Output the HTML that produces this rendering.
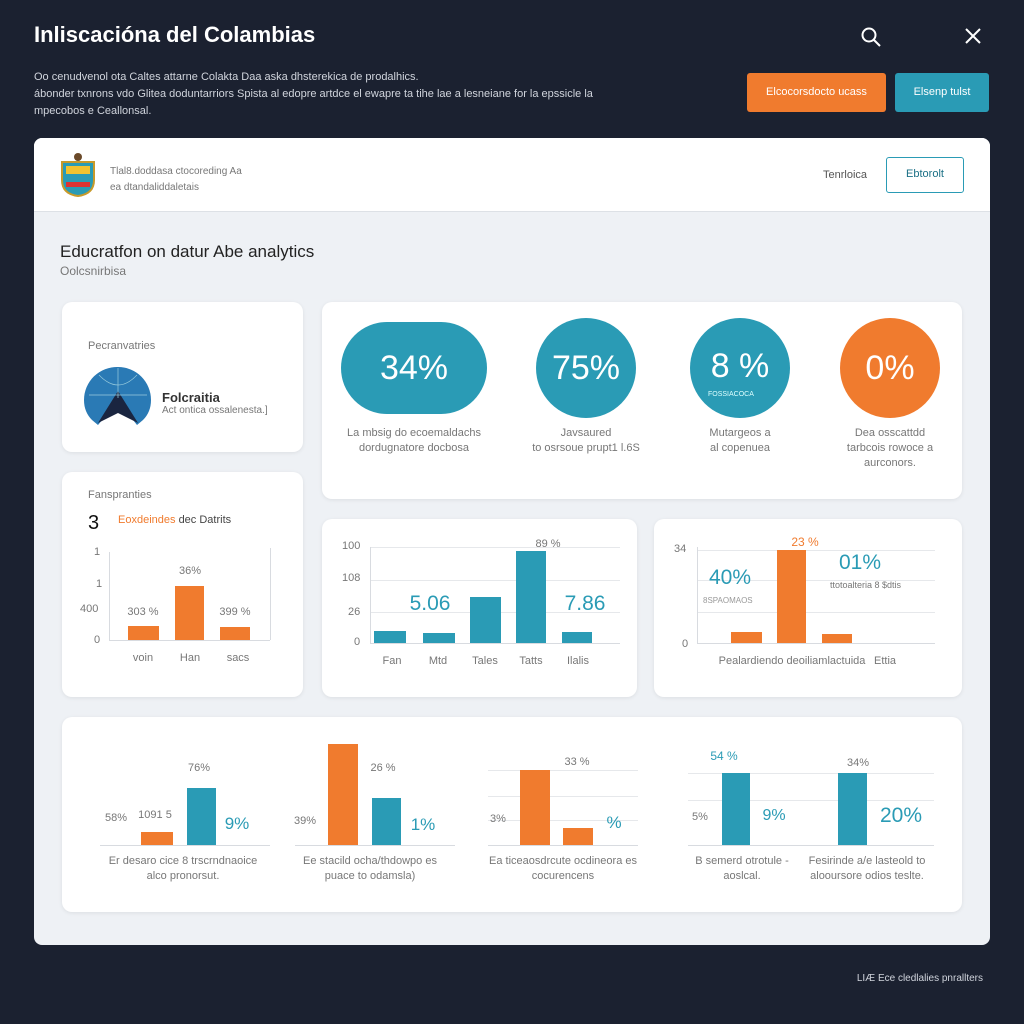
<!DOCTYPE html>
<html><head><meta charset="utf-8"><style>
*{margin:0;padding:0;box-sizing:border-box}
body{width:1024px;height:1024px;background:#1b2130;position:relative;overflow:hidden;font-family:"Liberation Sans",sans-serif}
.a{position:absolute;white-space:nowrap}
.c{position:absolute;background:#fff;border-radius:10px;box-shadow:0 1px 4px rgba(0,0,0,.08)}
.t{color:#2a9bb5}.o{color:#f07b2e}
.bt{position:absolute;background:#2a9bb5}.bo{position:absolute;background:#f07b2e}
.g{color:#777;font-size:11px}
.ctr{transform:translateX(-50%);text-align:center}
.ln{position:absolute;background:#d8dbe0}
</style></head><body>
<div class="a" style="left:34px;top:22px;font-size:22px;font-weight:bold;color:#fff">Inliscacióna del Colambias</div>
<svg class="a" style="left:860px;top:26px" width="22" height="22"><circle cx="9" cy="9" r="6.5" stroke="#fff" stroke-width="2" fill="none"/><line x1="14" y1="14" x2="20" y2="20" stroke="#fff" stroke-width="2"/></svg>
<svg class="a" style="left:964px;top:27px" width="18" height="18"><path d="M2 2L16 16M16 2L2 16" stroke="#fff" stroke-width="2"/></svg>
<div class="a" style="left:34px;top:69px;font-size:11px;color:#d0d4dc;line-height:17px">Oo cenudvenol ota Caltes attarne Colakta Daa aska dhsterekica de prodalhics.<br>ábonder txnrons vdo Glitea doduntarriors Spista al edopre artdce el ewapre ta tihe lae a lesneiane for la epssicle la<br>mpecobos e Ceallonsal.</div>
<div class="a" style="left:747px;top:73px;width:139px;height:39px;background:#f07b2e;border-radius:3px;color:#fff;font-size:11px;text-align:center;line-height:39px">Elcocorsdocto ucass</div>
<div class="a" style="left:895px;top:73px;width:94px;height:39px;background:#2a9bb5;border-radius:3px;color:#fff;font-size:11px;text-align:center;line-height:39px">Elsenp tulst</div>

<div class="a" style="left:34px;top:138px;width:956px;height:807px;background:#eef1f5;border-radius:8px;overflow:hidden">
<div class="a" style="left:0;top:0;width:956px;height:74px;background:#fff;border-bottom:1px solid #dde1e6"></div>
</div>
<svg class="a" style="left:58px;top:152px" width="40" height="46"><path d="M4 10h32v18q0 14-16 16q-16-2-16-16z" fill="#2a9bb5" stroke="#c89a2a" stroke-width="2"/><rect x="8" y="14" width="24" height="8" fill="#f2c230"/><rect x="8" y="30" width="24" height="5" fill="#d33"/><circle cx="20" cy="5" r="4" fill="#6b4a2a"/></svg>
<div class="a g" style="left:110px;top:164px;font-size:10px;line-height:16px">Tlal8.doddasa ctocoreding Aa<br>ea dtandaliddaletais</div>
<div class="a" style="left:823px;top:169px;font-size:11px;color:#555">Tenrloica</div>
<div class="a" style="left:886px;top:157px;width:78px;height:36px;border:1.5px solid #2a9bb5;border-radius:3px;color:#1a6f85;font-size:11px;text-align:center;line-height:33px">Ebtorolt</div>
<div class="a" style="left:60px;top:242px;font-size:17px;color:#222">Educratfon on datur Abe analytics</div>
<div class="a g" style="left:60px;top:264px;font-size:12px">Oolcsnirbisa</div>

<div class="c" style="left:62px;top:302px;width:241px;height:150px"></div>
<div class="a g" style="left:88px;top:340px">Pecranvatries</div>
<svg class="a" style="left:84px;top:365px" width="68" height="62"><path d="M34 2a33 33 0 0 1 33 33q0 12-8 20l-6 5l-19-24l-20 24l-6-5q-8-8-8-20a33 33 0 0 1 34-33z" fill="#2a7ab5"/><path d="M14 58l20-32l20 32l-20-10z" fill="#1a2540"/><path d="M5 30h58M34 3v30M15 10q19 20 38 0" stroke="#9cd" stroke-width=".7" fill="none"/></svg>
<div class="a" style="left:162px;top:390px;font-size:13px;font-weight:bold;color:#333">Folcraitia</div>
<div class="a g" style="left:162px;top:405px;font-size:10px">Act ontica ossalenesta.]</div>

<div class="c" style="left:62px;top:472px;width:241px;height:225px"></div>
<div class="a g" style="left:88px;top:489px">Fanspranties</div>
<div class="a" style="left:88px;top:512px;font-size:20px;color:#111">3</div>
<div class="a" style="left:118px;top:514px;font-size:11px"><span class="o">Eoxdeindes</span> <span style="color:#444">dec Datrits</span></div>
<div class="ln" style="left:109px;top:552px;width:1px;height:88px"></div>
<div class="ln" style="left:270px;top:548px;width:1px;height:92px"></div>
<div class="ln" style="left:109px;top:640px;width:161px;height:1px"></div>
<div class="a g" style="left:94px;top:546px">1</div><div class="a g" style="left:96px;top:578px">1</div><div class="a g" style="left:80px;top:603px">400</div><div class="a g" style="left:94px;top:634px">0</div>
<div class="bo" style="left:128px;top:626px;width:31px;height:14px"></div>
<div class="bo" style="left:175px;top:586px;width:29px;height:54px"></div>
<div class="bo" style="left:220px;top:627px;width:30px;height:13px"></div>
<div class="a g ctr" style="left:143px;top:606px">303 %</div><div class="a g ctr" style="left:190px;top:565px">36%</div><div class="a g ctr" style="left:235px;top:606px">399 %</div>
<div class="a g ctr" style="left:143px;top:652px">voin</div><div class="a g ctr" style="left:190px;top:652px">Han</div><div class="a g ctr" style="left:238px;top:652px">sacs</div>

<div class="c" style="left:322px;top:302px;width:640px;height:197px"></div>
<div class="a" style="left:341px;top:322px;width:146px;height:92px;border-radius:46px;background:#2a9bb5;color:#fff;font-size:34px;text-align:center;line-height:92px">34%</div>
<div class="a" style="left:536px;top:318px;width:100px;height:100px;border-radius:50%;background:#2a9bb5;color:#fff;font-size:34px;text-align:center;line-height:100px">75%</div>
<div class="a" style="left:690px;top:318px;width:100px;height:100px;border-radius:50%;background:#2a9bb5;color:#fff;font-size:34px;text-align:center;line-height:96px">8 %</div>
<div class="a" style="left:708px;top:391px;font-size:7px;color:#dff">FOSSIACOCA</div>
<div class="a" style="left:840px;top:318px;width:100px;height:100px;border-radius:50%;background:#f07b2e;color:#fff;font-size:34px;text-align:center;line-height:100px">0%</div>
<div class="a g ctr" style="left:414px;top:426px;line-height:15px">La mbsig do ecoemaldachs<br>dordugnatore docbosa</div>
<div class="a g ctr" style="left:586px;top:426px;line-height:15px">Javsaured<br>to osrsoue prupt1 l.6S</div>
<div class="a g ctr" style="left:740px;top:426px;line-height:15px">Mutargeos a<br>al copenuea</div>
<div class="a g ctr" style="left:890px;top:426px;line-height:15px">Dea osscattdd<br>tarbcois rowoce a<br>aurconors.</div>

<div class="c" style="left:322px;top:519px;width:315px;height:178px"></div>
<div class="ln" style="left:370px;top:547px;width:250px;height:1px;background:#e6e8eb"></div>
<div class="ln" style="left:370px;top:580px;width:250px;height:1px;background:#e6e8eb"></div>
<div class="ln" style="left:370px;top:612px;width:250px;height:1px;background:#e6e8eb"></div>
<div class="ln" style="left:370px;top:643px;width:250px;height:1px"></div>
<div class="ln" style="left:370px;top:547px;width:1px;height:96px"></div>
<div class="a g" style="left:342px;top:540px">100</div><div class="a g" style="left:342px;top:572px">108</div><div class="a g" style="left:348px;top:606px">26</div><div class="a g" style="left:354px;top:636px">0</div>
<div class="bt" style="left:374px;top:631px;width:32px;height:12px"></div>
<div class="bt" style="left:423px;top:633px;width:32px;height:10px"></div>
<div class="bt" style="left:470px;top:597px;width:31px;height:46px"></div>
<div class="bt" style="left:516px;top:551px;width:30px;height:92px"></div>
<div class="bt" style="left:562px;top:632px;width:30px;height:11px"></div>
<div class="a t ctr" style="left:430px;top:592px;font-size:21px">5.06</div>
<div class="a t ctr" style="left:585px;top:592px;font-size:21px">7.86</div>
<div class="a g ctr" style="left:548px;top:538px">89 %</div>
<div class="a g ctr" style="left:392px;top:655px">Fan</div><div class="a g ctr" style="left:438px;top:655px">Mtd</div><div class="a g ctr" style="left:485px;top:655px">Tales</div><div class="a g ctr" style="left:531px;top:655px">Tatts</div><div class="a g ctr" style="left:578px;top:655px">Ilalis</div>

<div class="c" style="left:654px;top:519px;width:308px;height:178px"></div>
<div class="ln" style="left:697px;top:550px;width:238px;height:1px;background:#e6e8eb"></div>
<div class="ln" style="left:697px;top:580px;width:238px;height:1px;background:#e6e8eb"></div>
<div class="ln" style="left:697px;top:612px;width:238px;height:1px;background:#e6e8eb"></div>
<div class="ln" style="left:697px;top:643px;width:238px;height:1px"></div>
<div class="ln" style="left:697px;top:547px;width:1px;height:96px"></div>
<div class="a g" style="left:674px;top:543px">34</div><div class="a g" style="left:682px;top:638px">0</div>
<div class="bo" style="left:731px;top:632px;width:31px;height:11px"></div>
<div class="bo" style="left:777px;top:550px;width:29px;height:93px"></div>
<div class="bo" style="left:822px;top:634px;width:30px;height:9px"></div>
<div class="a t ctr" style="left:730px;top:566px;font-size:21px">40%</div>
<div class="a" style="left:703px;top:596px;font-size:8px;color:#999">8SPAOMAOS</div>
<div class="a t ctr" style="left:860px;top:551px;font-size:21px">01%</div>
<div class="a g" style="left:830px;top:580px;font-size:9px">ttotoalteria  8 $dtis</div>
<div class="a o ctr" style="left:805px;top:535px;font-size:12px">23 %</div>
<div class="a g ctr" style="left:792px;top:655px">Pealardiendo deoiliamlactuida</div><div class="a g ctr" style="left:885px;top:655px">Ettia</div>

<div class="c" style="left:62px;top:717px;width:900px;height:195px"></div>
<div class="ln" style="left:488px;top:770px;width:150px;height:1px;background:#e6e8eb"></div>
<div class="ln" style="left:488px;top:796px;width:150px;height:1px;background:#e6e8eb"></div>
<div class="ln" style="left:488px;top:820px;width:150px;height:1px;background:#e6e8eb"></div>
<div class="ln" style="left:688px;top:773px;width:246px;height:1px;background:#e6e8eb"></div>
<div class="ln" style="left:688px;top:800px;width:246px;height:1px;background:#e6e8eb"></div>
<div class="ln" style="left:100px;top:845px;width:170px;height:1px"></div>
<div class="ln" style="left:295px;top:845px;width:160px;height:1px"></div>
<div class="ln" style="left:488px;top:845px;width:150px;height:1px"></div>
<div class="ln" style="left:688px;top:845px;width:246px;height:1px"></div>
<div class="bo" style="left:141px;top:832px;width:32px;height:13px"></div>
<div class="bt" style="left:187px;top:788px;width:29px;height:57px"></div>
<div class="a g ctr" style="left:199px;top:762px">76%</div><div class="a g ctr" style="left:116px;top:812px">58%</div><div class="a g ctr" style="left:155px;top:809px">1091 5</div>
<div class="a t ctr" style="left:237px;top:814px;font-size:17px">9%</div>
<div class="bo" style="left:328px;top:744px;width:30px;height:101px"></div>
<div class="bt" style="left:372px;top:798px;width:29px;height:47px"></div>
<div class="a g ctr" style="left:383px;top:762px">26 %</div><div class="a g ctr" style="left:305px;top:815px">39%</div>
<div class="a t ctr" style="left:423px;top:815px;font-size:17px">1%</div>
<div class="bo" style="left:520px;top:770px;width:30px;height:75px"></div>
<div class="bo" style="left:563px;top:828px;width:30px;height:17px"></div>
<div class="a g ctr" style="left:577px;top:756px">33 %</div><div class="a g ctr" style="left:498px;top:813px">3%</div>
<div class="a t ctr" style="left:614px;top:813px;font-size:17px">%</div>
<div class="bt" style="left:722px;top:773px;width:28px;height:72px"></div>
<div class="bt" style="left:838px;top:773px;width:29px;height:72px"></div>
<div class="a t ctr" style="left:724px;top:749px;font-size:12px">54 %</div><div class="a g ctr" style="left:700px;top:811px">5%</div>
<div class="a t ctr" style="left:774px;top:807px;font-size:16px">9%</div>
<div class="a g ctr" style="left:858px;top:757px">34%</div>
<div class="a t ctr" style="left:901px;top:804px;font-size:21px">20%</div>
<div class="a g ctr" style="left:183px;top:854px;line-height:15px">Er desaro cice  8 trscrndnaoice<br>alco pronorsut.</div>
<div class="a g ctr" style="left:370px;top:854px;line-height:15px">Ee stacild ocha/thdowpo es<br>puace to odamsla)</div>
<div class="a g ctr" style="left:563px;top:854px;line-height:15px">Ea ticeaosdrcute ocdineora es<br>cocurencens</div>
<div class="a g ctr" style="left:742px;top:854px;line-height:15px">B semerd otrotule -<br>aoslcal.</div>
<div class="a g ctr" style="left:867px;top:854px;line-height:15px">Fesirinde a/e lasteold to<br>alooursore odios teslte.</div>
<div class="a" style="right:41px;top:973px;font-size:10px;color:#d0d4dc">LIÆ Ece cledlalies pnrallters</div>
</body></html>
